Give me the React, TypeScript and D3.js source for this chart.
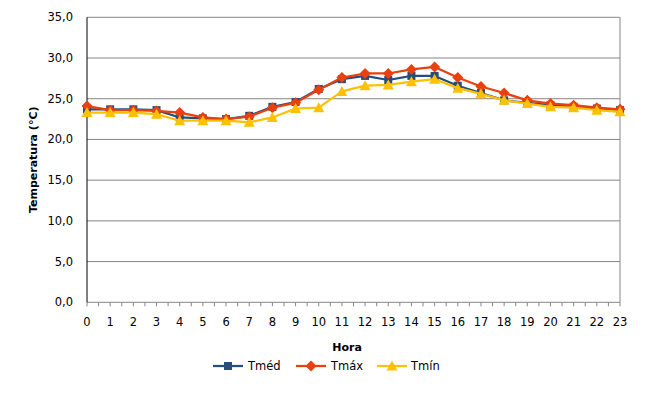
import React from 'react';
import * as d3 from 'd3';

const hours = d3.range(0, 24);
const tMed = [23.7, 23.7, 23.7, 23.6, 22.7, 22.6, 22.5, 22.9, 24.0, 24.6, 26.2, 27.4, 27.8, 27.3, 27.8, 27.8, 26.6, 25.7, 24.8, 24.5, 24.2, 24.0, 23.8, 23.6];
const tMax = [24.1, 23.6, 23.6, 23.5, 23.3, 22.7, 22.5, 22.8, 23.9, 24.5, 26.1, 27.6, 28.1, 28.1, 28.6, 28.9, 27.6, 26.5, 25.7, 24.8, 24.4, 24.2, 23.9, 23.7];
const tMin = [23.3, 23.3, 23.3, 23.1, 22.3, 22.3, 22.3, 22.1, 22.7, 23.8, 23.9, 25.9, 26.6, 26.7, 27.1, 27.4, 26.3, 25.6, 24.8, 24.4, 24.0, 23.9, 23.6, 23.4];
const yTicks = [0, 5, 10, 15, 20, 25, 30, 35];

const series = [
  { name: 'Tméd', values: tMed, color: '#254E7E', marker: 'square' },
  { name: 'Tmáx', values: tMax, color: '#E8400E', marker: 'diamond' },
  { name: 'Tmín', values: tMin, color: '#FFC000', marker: 'triangle' },
];

const font = 'Verdana, "DejaVu Sans", sans-serif';

function Marker({ type, x, y, color }: { type: string; x: number; y: number; color: string }) {
  if (type === 'square') {
    return <rect x={x - 4} y={y - 4} width={8} height={8} fill={color} />;
  }
  if (type === 'diamond') {
    return <path d={`M${x},${y - 5.5}L${x + 5.5},${y}L${x},${y + 5.5}L${x - 5.5},${y}Z`} fill={color} />;
  }
  return <path d={`M${x},${y - 5.5}L${x + 5.5},${y + 4.5}L${x - 5.5},${y + 4.5}Z`} fill={color} />;
}

export default function App() {
  const width = 665;
  const height = 394;
  const left = 87, right = 620, top = 17.3, bottom = 302.3;

  const x = d3.scaleLinear().domain([0, 23]).range([left, right]);
  const y = d3.scaleLinear().domain([0, 35]).range([bottom, top]);
  const line = d3.line<number>().x((_, i) => x(hours[i])).y(d => y(d));
  const halfTicks = d3.range(0, 23.01, 0.5);

  const legendItems = [
    { s: series[0], lx: 213, tx: 248 },
    { s: series[1], lx: 296, tx: 331 },
    { s: series[2], lx: 377, tx: 411 },
  ];

  return (
    <svg width={width} height={height} style={{ position: 'absolute', left: 0, top: 0 }} fontFamily={font}>
      <rect width={width} height={height} fill="#fff" />
      {/* gridlines */}
      {yTicks.map(t => (
        <g key={t}>
          {t > 0 && <line x1={left} x2={right} y1={y(t)} y2={y(t)} stroke="#868686" strokeWidth={1} />}
          <text x={73} y={y(t)} dy="0.35em" textAnchor="end" fontSize={11.5} fill="#000">
            {d3.format('.1f')(t).replace('.', ',')}
          </text>
        </g>
      ))}
      <line x1={right} x2={right} y1={top} y2={bottom} stroke="#868686" strokeWidth={1} />
      {/* x axis */}
      <line x1={left} x2={right} y1={bottom} y2={bottom} stroke="#868686" strokeWidth={1} />
      {halfTicks.map(t => (
        <line key={t} x1={x(t)} x2={x(t)} y1={bottom} y2={bottom + 4} stroke="#868686" strokeWidth={1} />
      ))}
      {hours.map(h => (
        <text key={h} x={x(h)} y={326} textAnchor="middle" fontSize={11.5} fill="#000">{h}</text>
      ))}
      <line x1={left} x2={left} y1={top} y2={bottom} stroke="#000" strokeWidth={1} />
      {/* series */}
      {series.map(s => (
        <g key={s.name}>
          <path d={line(s.values) || ''} fill="none" stroke={s.color} strokeWidth={2.25} strokeLinejoin="round" />
          {s.values.map((v, i) => (
            <Marker key={i} type={s.marker} x={x(hours[i])} y={y(v)} color={s.color} />
          ))}
        </g>
      ))}
      {/* titles */}
      <text x={347} y={351} textAnchor="middle" fontSize={11} fontWeight="bold">Hora</text>
      <text transform={`translate(37,${(top + bottom) / 2}) rotate(-90)`} textAnchor="middle" fontSize={11} fontWeight="bold">
        Temperatura (°C)
      </text>
      {/* legend */}
      {legendItems.map(({ s, lx, tx }) => (
        <g key={s.name}>
          <line x1={lx} x2={lx + 30} y1={366} y2={366} stroke={s.color} strokeWidth={2.25} />
          <Marker type={s.marker} x={lx + 15} y={366} color={s.color} />
          <text x={tx} y={366} dy="0.35em" fontSize={11.5}>{s.name}</text>
        </g>
      ))}
    </svg>
  );
}
